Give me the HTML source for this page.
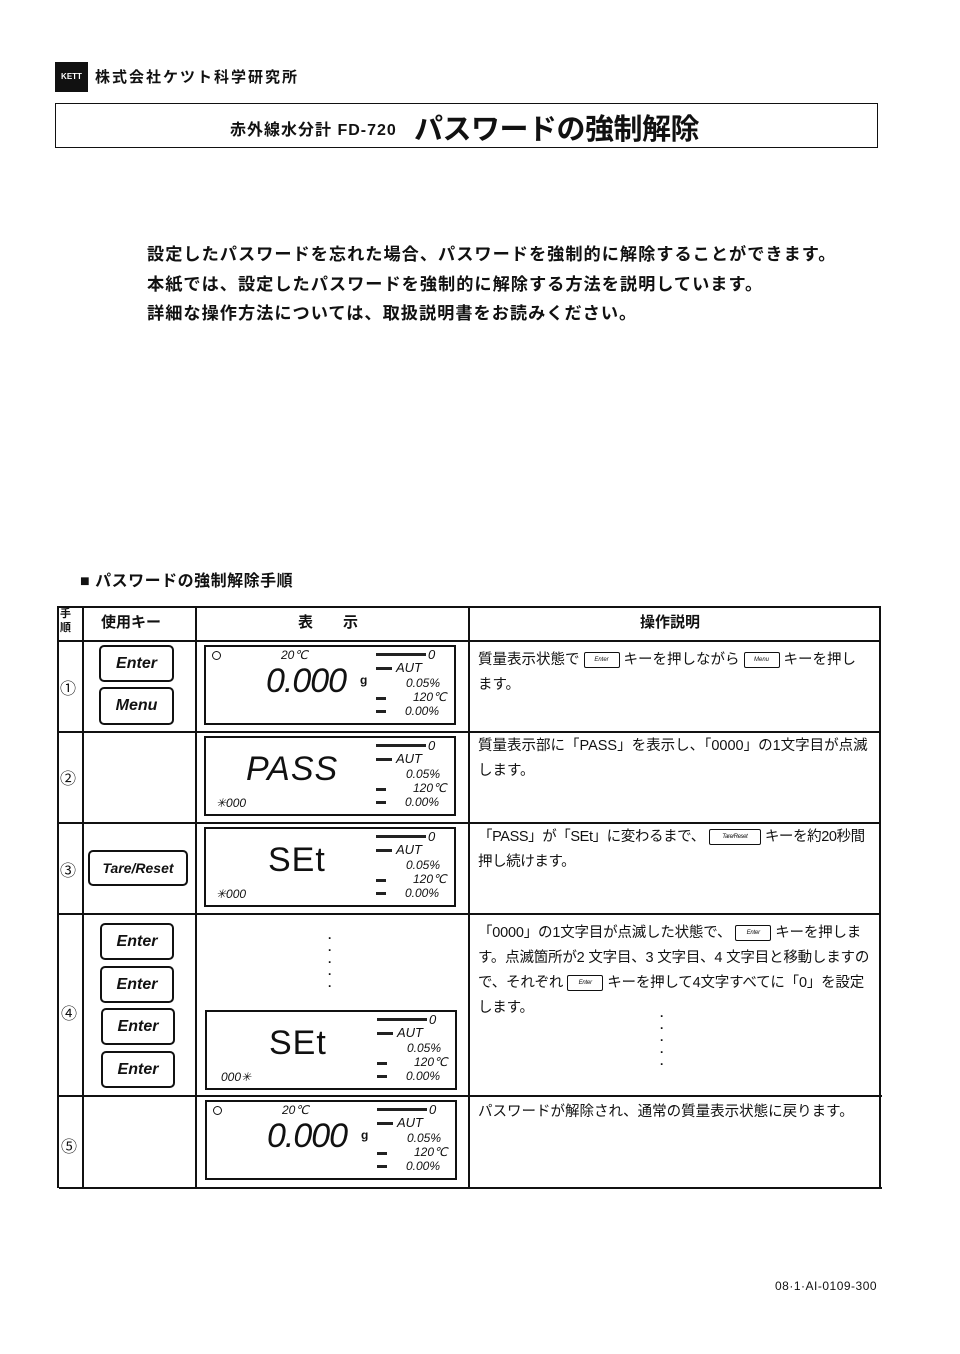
<!DOCTYPE html>
<html><head><meta charset="utf-8">
<style>
body{margin:0;width:960px;height:1354px;background:#fff;position:relative;overflow:hidden;font-family:"Liberation Sans","Noto Sans CJK JP",sans-serif;color:#111}
.a{position:absolute}
.ln{position:absolute;background:#111}
.key{position:absolute;border:2px solid #111;border-radius:5px;font-style:italic;font-weight:bold;font-size:16px;text-align:center;box-sizing:border-box;font-family:"Liberation Sans",sans-serif}
.disp{position:absolute;width:252px;height:80px;border:2px solid #111;box-sizing:border-box}
.disp .a{font-style:italic;font-family:"Liberation Sans",sans-serif}
.bar{position:absolute;background:#222;height:3px}
.big{font-size:34px;letter-spacing:-1px}
.r{font-size:12px}
.t{font-size:14.5px;line-height:25px;white-space:nowrap}
.ik{display:inline-block;border:1.5px solid #111;border-radius:2px;width:34px;height:14px;vertical-align:middle;font-size:6px;font-style:italic;text-align:center;line-height:14px;margin:0 4px}
</style></head><body>
<div class="a" style="left:55px;top:62px;width:33px;height:30px;background:#111;color:#fff;font-size:8px;font-weight:bold;line-height:30px;text-align:center">KETT</div>
<div class="a" style="left:95px;top:66px;font-size:15px;font-weight:bold;letter-spacing:2px">株式会社ケツト科学研究所</div>
<div class="a" style="left:55px;top:103px;width:823px;height:45px;border:1.5px solid #111;box-sizing:border-box"></div>
<div class="a" style="left:230px;top:116px;font-size:16px;font-weight:bold;letter-spacing:1px">赤外線水分計 FD-720</div>
<div class="a" style="left:414px;top:106px;font-size:29px;font-weight:bold;letter-spacing:-0.5px">パスワードの強制解除</div>
<div class="a" style="left:147px;top:240px;font-size:17.2px;line-height:29.5px;font-weight:bold;letter-spacing:1px;white-space:nowrap">設定したパスワードを忘れた場合、パスワードを強制的に解除することができます。<br>本紙では、設定したパスワードを強制的に解除する方法を説明しています。<br>詳細な操作方法については、取扱説明書をお読みください。</div>
<div class="a" style="left:80px;top:567px;font-size:16px;font-weight:bold;letter-spacing:0.5px">■ パスワードの強制解除手順</div>

<div class="ln" style="left:57px;top:606px;width:823px;height:1.5px"></div>
<div class="ln" style="left:57px;top:640px;width:823px;height:1.5px"></div>
<div class="ln" style="left:57px;top:731px;width:823px;height:1.5px"></div>
<div class="ln" style="left:57px;top:822px;width:823px;height:1.5px"></div>
<div class="ln" style="left:57px;top:913px;width:823px;height:1.5px"></div>
<div class="ln" style="left:57px;top:1095px;width:825px;height:1.5px"></div>
<div class="ln" style="left:59px;top:1187px;width:823px;height:1.5px"></div>
<div class="ln" style="left:57px;top:606px;width:1.5px;height:582px"></div>
<div class="ln" style="left:82px;top:606px;width:1.5px;height:582px"></div>
<div class="ln" style="left:195px;top:606px;width:1.5px;height:582px"></div>
<div class="ln" style="left:468px;top:606px;width:1.5px;height:582px"></div>
<div class="ln" style="left:879px;top:606px;width:1.5px;height:582px"></div>

<div class="a" style="left:60px;top:607px;font-size:11px;line-height:14px;font-weight:bold">手<br>順</div>
<div class="a" style="left:101px;top:611px;font-size:15px;font-weight:bold">使用キー</div>
<div class="a" style="left:298px;top:611px;font-size:15px;font-weight:bold;letter-spacing:30px">表示</div>
<div class="a" style="left:640px;top:611px;font-size:15px;font-weight:bold">操作説明</div>

<div class="a" style="left:60px;top:675px;font-size:16px">①</div>
<div class="a" style="left:60px;top:765px;font-size:16px">②</div>
<div class="a" style="left:60px;top:857px;font-size:16px">③</div>
<div class="a" style="left:61px;top:1000px;font-size:16px">④</div>
<div class="a" style="left:61px;top:1133px;font-size:16px">⑤</div>

<div class="key" style="left:99px;top:645px;width:75px;height:37px;line-height:33px">Enter</div>
<div class="key" style="left:99px;top:687px;width:75px;height:38px;line-height:34px">Menu</div>
<div class="key" style="left:88px;top:850px;width:100px;height:36px;line-height:32px;font-size:14px">Tare/Reset</div>
<div class="key" style="left:100px;top:923px;width:74px;height:37px;line-height:33px">Enter</div>
<div class="key" style="left:100px;top:966px;width:74px;height:37px;line-height:33px">Enter</div>
<div class="key" style="left:101px;top:1008px;width:74px;height:37px;line-height:33px">Enter</div>
<div class="key" style="left:101px;top:1051px;width:74px;height:37px;line-height:33px">Enter</div>

<div class="disp" style="left:204px;top:645px">
 <div class="a" style="left:6px;top:4px;width:7px;height:7px;border:1.5px solid #111;border-radius:50%"></div>
 <div class="a" style="left:75px;top:1px;font-size:12px">20℃</div>
 <div class="a big" style="left:60px;top:15px">0.000</div>
 <div class="a" style="left:154px;top:26px;font-size:12px;font-weight:bold;font-style:normal">g</div>
 <div class="bar" style="left:170px;top:6px;width:50px"></div><div class="a r" style="left:222px;top:0px;font-size:13px">0</div>
 <div class="bar" style="left:170px;top:20px;width:16px"></div><div class="a r" style="left:190px;top:13px;font-size:13px">AUT</div>
 <div class="a r" style="left:200px;top:29px">0.05%</div>
 <div class="bar" style="left:170px;top:50px;width:10px"></div><div class="a r" style="left:207px;top:43px">120℃</div>
 <div class="bar" style="left:170px;top:63px;width:10px"></div><div class="a r" style="left:199px;top:57px">0.00%</div>
</div>
<div class="disp" style="left:204px;top:736px">
 <div class="a" style="left:40px;top:12px;font-size:34px;letter-spacing:1px">PASS</div>
 <div class="a" style="left:10px;top:58px;font-size:12px">✳000</div>
 <div class="bar" style="left:170px;top:6px;width:50px"></div><div class="a r" style="left:222px;top:0px;font-size:13px">0</div>
 <div class="bar" style="left:170px;top:20px;width:16px"></div><div class="a r" style="left:190px;top:13px;font-size:13px">AUT</div>
 <div class="a r" style="left:200px;top:29px">0.05%</div>
 <div class="bar" style="left:170px;top:50px;width:10px"></div><div class="a r" style="left:207px;top:43px">120℃</div>
 <div class="bar" style="left:170px;top:63px;width:10px"></div><div class="a r" style="left:199px;top:57px">0.00%</div>
</div>
<div class="disp" style="left:204px;top:827px">
 <div class="a" style="left:62px;top:12px;font-size:34px;font-style:normal;letter-spacing:1px">SEt</div>
 <div class="a" style="left:10px;top:58px;font-size:12px">✳000</div>
 <div class="bar" style="left:170px;top:6px;width:50px"></div><div class="a r" style="left:222px;top:0px;font-size:13px">0</div>
 <div class="bar" style="left:170px;top:20px;width:16px"></div><div class="a r" style="left:190px;top:13px;font-size:13px">AUT</div>
 <div class="a r" style="left:200px;top:29px">0.05%</div>
 <div class="bar" style="left:170px;top:50px;width:10px"></div><div class="a r" style="left:207px;top:43px">120℃</div>
 <div class="bar" style="left:170px;top:63px;width:10px"></div><div class="a r" style="left:199px;top:57px">0.00%</div>
</div>
<div class="a" style="left:328px;top:932px;font-size:12px;line-height:12px;font-weight:bold">·<br>·<br>·<br>·<br>·</div>
<div class="disp" style="left:205px;top:1010px">
 <div class="a" style="left:62px;top:12px;font-size:34px;font-style:normal;letter-spacing:1px">SEt</div>
 <div class="a" style="left:14px;top:58px;font-size:12px">000✳</div>
 <div class="bar" style="left:170px;top:6px;width:50px"></div><div class="a r" style="left:222px;top:0px;font-size:13px">0</div>
 <div class="bar" style="left:170px;top:20px;width:16px"></div><div class="a r" style="left:190px;top:13px;font-size:13px">AUT</div>
 <div class="a r" style="left:200px;top:29px">0.05%</div>
 <div class="bar" style="left:170px;top:50px;width:10px"></div><div class="a r" style="left:207px;top:43px">120℃</div>
 <div class="bar" style="left:170px;top:63px;width:10px"></div><div class="a r" style="left:199px;top:57px">0.00%</div>
</div>
<div class="disp" style="left:205px;top:1100px">
 <div class="a" style="left:6px;top:4px;width:7px;height:7px;border:1.5px solid #111;border-radius:50%"></div>
 <div class="a" style="left:75px;top:1px;font-size:12px">20℃</div>
 <div class="a big" style="left:60px;top:15px">0.000</div>
 <div class="a" style="left:154px;top:26px;font-size:12px;font-weight:bold;font-style:normal">g</div>
 <div class="bar" style="left:170px;top:6px;width:50px"></div><div class="a r" style="left:222px;top:0px;font-size:13px">0</div>
 <div class="bar" style="left:170px;top:20px;width:16px"></div><div class="a r" style="left:190px;top:13px;font-size:13px">AUT</div>
 <div class="a r" style="left:200px;top:29px">0.05%</div>
 <div class="bar" style="left:170px;top:50px;width:10px"></div><div class="a r" style="left:207px;top:43px">120℃</div>
 <div class="bar" style="left:170px;top:63px;width:10px"></div><div class="a r" style="left:199px;top:57px">0.00%</div>
</div>

<div class="a t" style="left:478px;top:648px">質量表示状態で<span class="ik">Enter</span>キーを押しながら<span class="ik">Menu</span>キーを押し<br>ます。</div>
<div class="a t" style="left:478px;top:734px">質量表示部に「PASS」を表示し、「0000」の1文字目が点滅<br>します。</div>
<div class="a t" style="left:478px;top:825px;letter-spacing:-0.4px">「PASS」が「SEt」に変わるまで、<span class="ik" style="width:50px">Tare/Reset</span>キーを約20秒間<br>押し続けます。</div>
<div class="a t" style="left:478px;top:921px;letter-spacing:-0.2px">「0000」の1文字目が点滅した状態で、<span class="ik">Enter</span>キーを押しま<br>す。点滅箇所が2 文字目、3 文字目、4 文字目と移動しますの<br>で、それぞれ<span class="ik">Enter</span>キーを押して4文字すべてに「0」を設定<br>します。</div>
<div class="a" style="left:660px;top:1010px;font-size:12px;line-height:12px;font-weight:bold">·<br>·<br>·<br>·<br>·</div>
<div class="a t" style="left:478px;top:1100px">パスワードが解除され、通常の質量表示状態に戻ります。</div>

<div class="a" style="left:775px;top:1279px;font-size:12px;letter-spacing:0.5px">08·1·AI-0109-300</div>
</body></html>
